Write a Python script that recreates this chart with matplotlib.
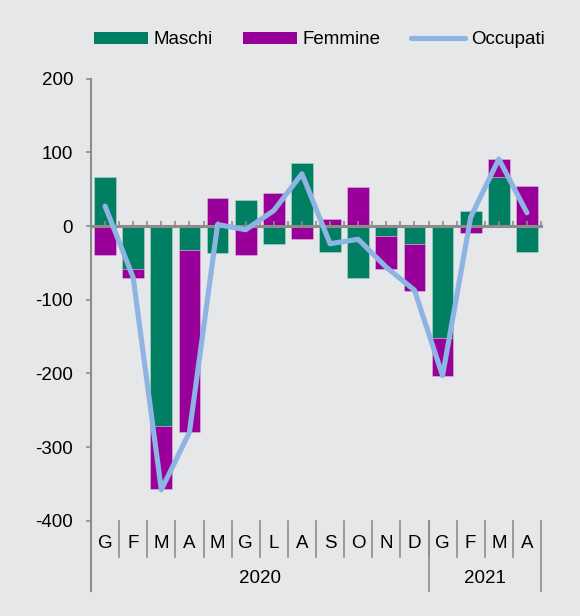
import matplotlib.pyplot as plt
from matplotlib.patches import Patch
from matplotlib.lines import Line2D
import numpy as np

plt.rcParams["font.family"] = ["Liberation Sans", "DejaVu Sans"]
plt.rcParams["axes.unicode_minus"] = False

months = ["G", "F", "M", "A", "M", "G", "L", "A", "S", "O", "N", "D", "G", "F", "M", "A"]
years = ["2020", "2021"]
year_len = [12, 4]
maschi = [67, -59, -272, -33, -37, 35, -25, 86, -35, -71, -14, -25, -152, 20, 66, -35]
femmine = [-40, -11, -85, -247, 38, -40, 45, -17, 10, 53, -45, -63, -52, -9, 25, 54]
occupati = [27, -70, -358, -280, 2, -5, 21, 71, -24, -18, -56, -87, -203, 12, 91, 18]

BG = "#E6E7E9"
GREEN = "#007F62"
PURPLE = "#990099"
BLUE = "#8DB4E2"
GRAY = "#8C8C8C"
FS = 13.5

fig = plt.figure(figsize=(5.8, 6.16), dpi=100, facecolor=BG)
ax = fig.add_axes([91 / 580, 1 - 520.7 / 616, 450 / 580, 442 / 616], facecolor=BG)

x = np.arange(len(months))
m = np.array(maschi)
f = np.array(femmine)
# stack femmine on maschi only when same sign
f_bottom = np.where(np.sign(f) == np.sign(m), m, 0)

edge = (1, 1, 1, 0.3)
ax.bar(x, m, width=0.77, color=GREEN, edgecolor=edge, linewidth=0.6, label="Maschi")
ax.bar(x, f, width=0.77, bottom=f_bottom, color=PURPLE, edgecolor=edge, linewidth=0.6,
       label="Femmine")
ax.plot(x, occupati, color=BLUE, linewidth=3.7, solid_capstyle="round",
        solid_joinstyle="round", zorder=4, label="Occupati")

ax.set_xlim(-0.5, len(months) - 0.5)
ax.set_ylim(-400, 200)
ax.set_yticks(np.arange(-400, 201, 100))
ax.tick_params(axis="y", length=3.8, width=1.2, color=GRAY, pad=9, labelsize=FS,
               labelcolor="black")

# zero line as bottom spine with small inward ticks
for s in ["top", "right"]:
    ax.spines[s].set_visible(False)
ax.spines["bottom"].set_position(("data", 0))
ax.spines["bottom"].set_color(GRAY)
ax.spines["bottom"].set_linewidth(2.2)
ax.spines["left"].set_color(GRAY)
ax.spines["left"].set_linewidth(1.5)
ax.spines["left"].set_bounds(-400, 200)
ax.set_xticks(x)
ax.set_xticks(np.arange(-0.5, len(months), 1.0), minor=True)
ax.tick_params(axis="x", which="both", direction="in", length=3.5, width=1.2,
               color=GRAY, labelbottom=False)

# category axis below plot
trans = ax.get_xaxis_transform()
h = 442.0
for i, lab in enumerate(months):
    ax.text(i, -22.5 / h, lab, transform=trans, ha="center", va="center", fontsize=FS)
for b in np.arange(0.5, len(months) - 1, 1.0):
    ax.plot([b, b], [0, -36 / h], transform=trans, color=GRAY, lw=1.2, clip_on=False)
ax.plot([-0.5, -0.5], [0, -70.5 / h], transform=trans, color=GRAY, lw=1.5, clip_on=False)
start = -0.5
for yr, n in zip(years, year_len):
    end = start + n
    ax.plot([end, end], [0, -70.5 / h], transform=trans, color=GRAY, lw=1.2, clip_on=False)
    ax.text((start + end) / 2, -57.5 / h, yr, transform=trans, ha="center", va="center",
            fontsize=FS)
    start = end

handles = [Patch(facecolor=GREEN, edgecolor="none"),
           Patch(facecolor=PURPLE, edgecolor="none"),
           Line2D([], [], color=BLUE, lw=3.7, solid_capstyle="round")]
fig.legend(handles, ["Maschi", "Femmine", "Occupati"], loc="center",
           bbox_to_anchor=(319 / 580, 1 - 40 / 616), ncol=3, frameon=False,
           fontsize=FS, handlelength=2.9, handleheight=0.55, handletextpad=0.3,
           columnspacing=1.6)

fig.savefig("out.png", dpi=100, facecolor=BG)
